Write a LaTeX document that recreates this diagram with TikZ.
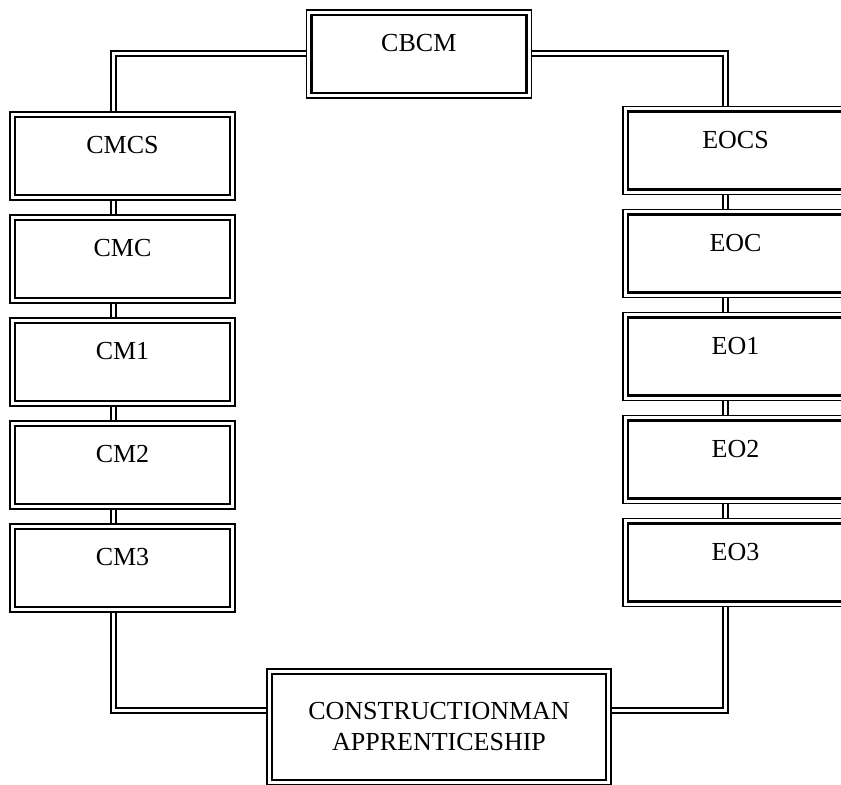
\documentclass[tikz,border=0pt]{standalone}
\usepackage{fontspec}
\setmainfont{Liberation Serif}
\usetikzlibrary{positioning,backgrounds}
\tikzset{
	frame/.style={draw,line width=1.3pt,inner sep=0pt,outer sep=2.5pt,
		font=\fontsize{13}{15.5}\selectfont,
		append after command={\pgfextra{\draw[line width=0.7pt](\tikzlastnode.north west) rectangle (\tikzlastnode.south east);}}},
	rank/.style={frame,minimum width=107.5pt,minimum height=39pt,text height=9pt,text depth=11.4pt},
	link/.style={double,double distance=1.5pt,line width=1pt}
}

\begin{document}
\begin{tikzpicture}[x=0.5pt,y=-0.5pt]
	\clip (0,0) rectangle (841,784);
	\coordinate[] (top) at (418.8,53.8);
	\coordinate[] (l1) at (122.5,156);
	\coordinate[] (l2) at (122.5,259);
	\coordinate[] (l3) at (122.5,362);
	\coordinate[] (l4) at (122.5,465);
	\coordinate[] (l5) at (122.5,568);
	\coordinate[] (r1) at (735.5,150.5);
	\coordinate[] (r2) at (735.5,253.5);
	\coordinate[] (r3) at (735.5,356.5);
	\coordinate[] (r4) at (735.5,459.5);
	\coordinate[] (r5) at (735.5,562.5);
	\coordinate[] (bot) at (439,727);
	\coordinate[] (lx) at (113,0);
	\coordinate[] (rx) at (725,0);
	\coordinate[] (by) at (0,710);
	
	\node (cbcm) at (top)[rank]{CBCM};
	\node (cmcs) at (l1)[rank]{CMCS};
	\node (cmc) at (l2)[rank]{CMC};
	\node (cm1) at (l3)[rank]{CM1};
	\node (cm2) at (l4)[rank]{CM2};
	\node (cm3) at (l5)[rank]{CM3};
	\node (eocs) at (r1)[rank]{EOCS};
	\node (eoc) at (r2)[rank]{EOC};
	\node (eo1) at (r3)[rank]{EO1};
	\node (eo2) at (r4)[rank]{EO2};
	\node (eo3) at (r5)[rank]{EO3};
	\node (cma) at (bot)[frame,minimum width=167pt,minimum height=53pt,align=center]{CONSTRUCTIONMAN\\APPRENTICESHIP};
	
	\begin{scope}[on background layer]
	\draw[link](cbcm.west) -| (cmcs.north -| lx);
	\draw[link](cbcm.east) -| (eocs.north -| rx);
	\foreach \a/\b in {cmcs/cmc,cmc/cm1,cm1/cm2,cm2/cm3}
		\draw[link](\a.south -| lx) -- (\b.north -| lx);
	\foreach \a/\b in {eocs/eoc,eoc/eo1,eo1/eo2,eo2/eo3}
		\draw[link](\a.south -| rx) -- (\b.north -| rx);
	\draw[link](cm3.south -| lx) |- (cma.west |- by);
	\draw[link](eo3.south -| rx) |- (cma.east |- by);
	\end{scope}
\end{tikzpicture}
\end{document}
